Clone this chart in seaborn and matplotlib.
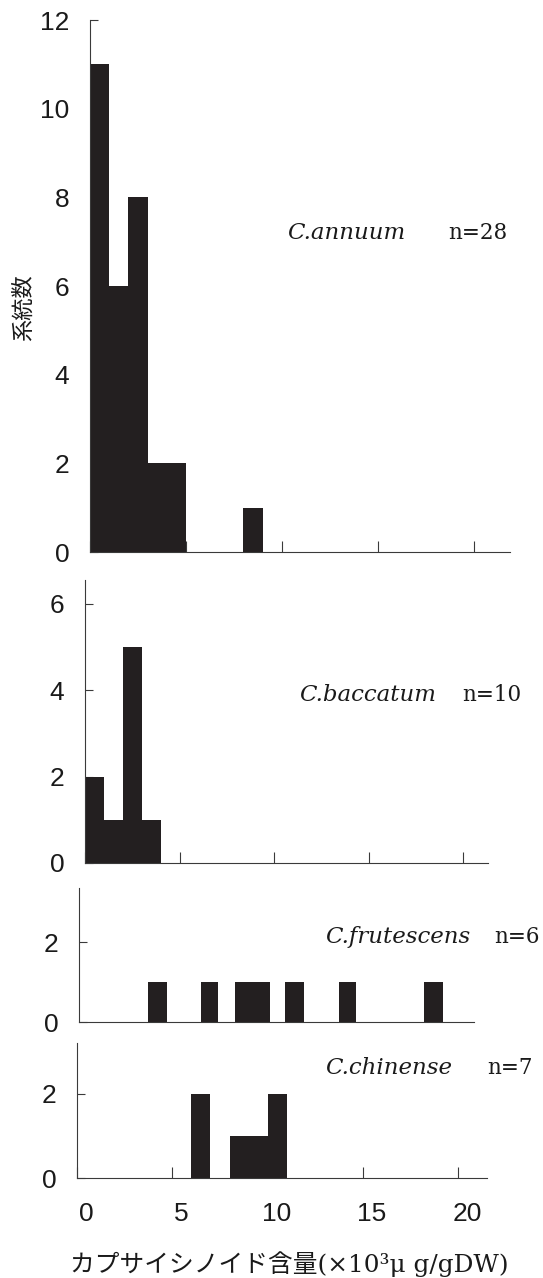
import matplotlib
matplotlib.use("Agg")
import matplotlib.pyplot as plt
import matplotlib.transforms as mtransforms
import numpy as np
import seaborn as sns

# histogram data (bin edges in 10^3 ug/gDW, counts per bin)
annuum_edges = [0, 1, 2, 3, 4, 5, 8, 9]
annuum_counts = [11, 6, 8, 2, 2, 0, 1]

baccatum_edges = [0, 1, 2, 3, 4]
baccatum_counts = [2, 1, 5, 1]

frutescens_edges = [3.6, 4.6, 6.4, 7.3, 8.2, 10.0, 10.8, 11.8, 13.6, 14.5, 18.1, 19.1]
frutescens_counts = [1, 0, 1, 0, 1, 0, 1, 0, 1, 0, 1]

chinense_edges = [6, 7, 8, 9, 10, 11]
chinense_counts = [2, 0, 1, 1, 2]

species = ["C.annuum", "C.baccatum", "C.frutescens", "C.chinense"]
n_labels = ["n=28", "n=10", "n=6", "n=7"]
x_ticks = [0, 5, 10, 15, 20]

sns.set_theme(style="ticks")
plt.rcParams["font.family"] = ["Liberation Sans", "DejaVu Sans"]
plt.rcParams["axes.linewidth"] = 0.8

BAR = "#231f20"
LINE = "#3a3a3a"
W, H = 543, 1278

fig = plt.figure(figsize=(W / 100, H / 100), dpi=100)


def box(l, t, r, b):
    return [l / W, 1 - b / H, (r - l) / W, (b - t) / H]


# panel layout in pixels: left, top, right, bottom, x max, y max, y ticks
panels = [
    (annuum_edges, annuum_counts, (90, 20, 510, 552), 21.9, 12.0, [0, 2, 4, 6, 8, 10, 12], True),
    (baccatum_edges, baccatum_counts, (85, 580, 488, 863), 21.3, 6.55, [0, 2, 4, 6], True),
    (frutescens_edges, frutescens_counts, (79, 888, 474, 1022), 20.7, 3.35, [0, 2], False),
    (chinense_edges, chinense_counts, (77, 1043, 487, 1178), 21.5, 3.2, [0, 2], True),
]
# species left edge, n= right edge, text centre line (pixels)
label_pos = [(287, 507, 233), (299, 521, 695), (325, 540, 937), (325, 533, 1068)]

axes = []
for i, (edges, counts, rect, xmax, ymax, yt, show_xt) in enumerate(panels):
    ax = fig.add_axes(box(*rect))
    mids = (np.array(edges[:-1]) + np.array(edges[1:])) / 2
    sns.histplot(x=mids, weights=counts, bins=edges, ax=ax, color=BAR,
                 alpha=1, linewidth=0, edgecolor=BAR)
    ax.set_xlim(0, xmax)
    ax.set_ylim(0, ymax)
    ax.set_yticks(yt)
    ax.set_xticks(x_ticks if show_xt else [])
    ax.set_xlabel("")
    ax.set_ylabel("")
    sns.despine(ax=ax)
    for s in ["left", "bottom"]:
        ax.spines[s].set_color(LINE)
        ax.spines[s].set_linewidth(0.8)
    ax.tick_params(axis="y", direction="in", length=6, width=0.8, color=LINE,
                   labelsize=19, pad=15, labelcolor="#1a1a1a")
    ax.tick_params(axis="x", direction="in", length=8, width=0.8, color=LINE,
                   labelsize=19, pad=17, labelcolor="#1a1a1a")
    if i < 3:
        ax.tick_params(axis="x", labelbottom=False)
    ax.patch.set_alpha(0)
    lx, nx, ly = label_pos[i]
    fig.text(lx / W, 1 - ly / H, species[i], family="DejaVu Serif", style="italic",
             fontsize=16.5, va="center", ha="left", color="#1a1a1a")
    fig.text(nx / W, 1 - ly / H, n_labels[i], family="DejaVu Serif",
             fontsize=15.5, va="center", ha="right", color="#1a1a1a")
    axes.append(ax)

# bottom tick labels sit a little right of their ticks in the original
shift = mtransforms.ScaledTranslation(9 / 100, 0, fig.dpi_scale_trans)
for lab in axes[-1].get_xticklabels():
    lab.set_transform(lab.get_transform() + shift)

fig.text(23 / W, 1 - 308 / H, "系統数", rotation=90, family=["Noto Sans CJK JP"],
         fontsize=16, va="center", ha="center", color="#1a1a1a")
fig.text(289 / W, 1 - 1264 / H, "カプサイシノイド含量(×10³μ g/gDW)",
         family=["DejaVu Serif", "Noto Sans CJK JP"], fontsize=17.8,
         va="center", ha="center", color="#1a1a1a")

fig.savefig("out.png", dpi=100, facecolor="white")
